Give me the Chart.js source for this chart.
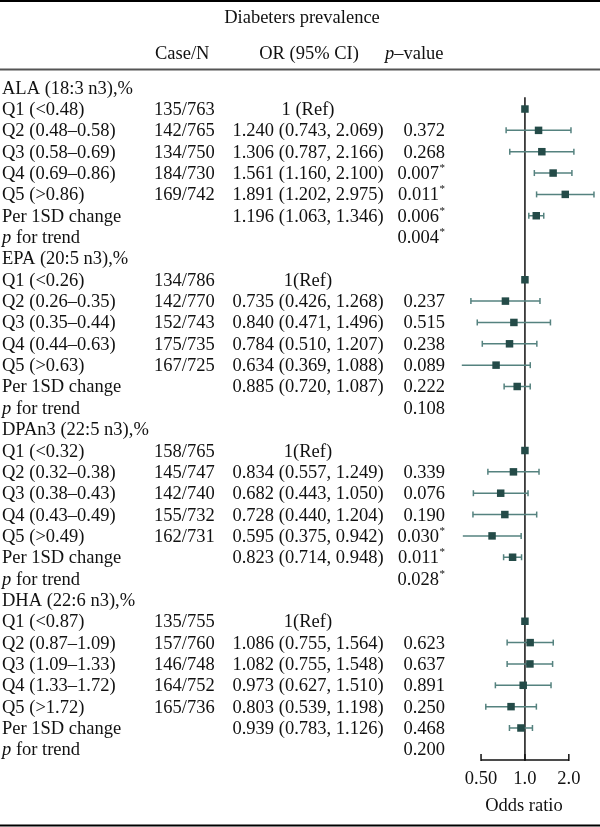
<!doctype html>
<html lang="en">
<head>
<meta charset="utf-8">
<title>Diabeters prevalence</title>
<style>
  * { margin: 0; padding: 0; }
  body { background: #fff; }
  .chartBox { width: 600px; height: 827px; position: relative; }
</style>
</head>
<body>
<div class="chartBox"><canvas id="forestChart"></canvas></div>
<script src="https://cdn.jsdelivr.net/npm/chart.js"></script>
<script>
  // table data, one entry per fatty acid
  const groupNames = ['ALA (18:3 n3),%', 'EPA (20:5 n3),%', 'DPAn3 (22:5 n3),%', 'DHA (22:6 n3),%']
  const quintileLabels = [
    ['Q1 (<0.48)', 'Q2 (0.48–0.58)', 'Q3 (0.58–0.69)', 'Q4 (0.69–0.86)', 'Q5 (>0.86)'],
    ['Q1 (<0.26)', 'Q2 (0.26–0.35)', 'Q3 (0.35–0.44)', 'Q4 (0.44–0.63)', 'Q5 (>0.63)'],
    ['Q1 (<0.32)', 'Q2 (0.32–0.38)', 'Q3 (0.38–0.43)', 'Q4 (0.43–0.49)', 'Q5 (>0.49)'],
    ['Q1 (<0.87)', 'Q2 (0.87–1.09)', 'Q3 (1.09–1.33)', 'Q4 (1.33–1.72)', 'Q5 (>1.72)']
  ]
  const caseN = [
    ['135/763', '142/765', '134/750', '184/730', '169/742'],
    ['134/786', '142/770', '152/743', '175/735', '167/725'],
    ['158/765', '145/747', '142/740', '155/732', '162/731'],
    ['135/755', '157/760', '146/748', '164/752', '165/736']
  ]
  const refLabels = ['1 (Ref)', '1(Ref)', '1(Ref)', '1(Ref)']
  // Q1..Q5, then per 1SD change
  const oddsRatios = [
    [1, 1.240, 1.306, 1.561, 1.891, 1.196],
    [1, 0.735, 0.840, 0.784, 0.634, 0.885],
    [1, 0.834, 0.682, 0.728, 0.595, 0.823],
    [1, 1.086, 1.082, 0.973, 0.803, 0.939]
  ]
  const ciLower = [
    [null, 0.743, 0.787, 1.160, 1.202, 1.063],
    [null, 0.426, 0.471, 0.510, 0.369, 0.720],
    [null, 0.557, 0.443, 0.440, 0.375, 0.714],
    [null, 0.755, 0.755, 0.627, 0.539, 0.783]
  ]
  const ciUpper = [
    [null, 2.069, 2.166, 2.100, 2.975, 1.346],
    [null, 1.268, 1.496, 1.207, 1.088, 1.087],
    [null, 1.249, 1.050, 1.204, 0.942, 0.948],
    [null, 1.564, 1.548, 1.510, 1.198, 1.126]
  ]
  // Q1..Q5, per 1SD change, p for trend (* = significant)
  const pValues = [
    ['', '0.372', '0.268', '0.007*', '0.011*', '0.006*', '0.004*'],
    ['', '0.237', '0.515', '0.238', '0.089', '0.222', '0.108'],
    ['', '0.339', '0.076', '0.190', '0.030*', '0.011*', '0.028*'],
    ['', '0.623', '0.637', '0.891', '0.250', '0.468', '0.200']
  ]
  const xTicks = [0.5, 1, 2]
  const xTickLabels = ['0.50', '1.0', '2.0']

  const rowsPerGroup = 8
  const squareColor = '#244b48'
  const whiskerColor = '#55827f'
  const textColor = '#111'
  const fontFamily = '"Liberation Serif", "DejaVu Serif", serif'
  const fontSize = 18.5

  // build datasets
  const squarePoints = []
  const whiskerSets = []
  oddsRatios.forEach((list, g) => {
    list.forEach((or, k) => {
      const row = g * rowsPerGroup + 1 + k
      squarePoints.push({ x: or, y: row })
      if (ciLower[g][k] !== null) {
        whiskerSets.push({
          type: 'scatter',
          data: [{ x: ciLower[g][k], y: row }, { x: ciUpper[g][k], y: row }],
          showLine: true,
          borderColor: whiskerColor,
          borderWidth: 1.5,
          pointStyle: 'line',
          rotation: 90,
          pointRadius: 3,
          pointBorderColor: whiskerColor,
          pointBorderWidth: 1.5,
          clip: false
        })
      }
    })
  })

  function setFont(ctx, size, italic) {
    ctx.font = (italic ? 'italic ' : '') + size + 'px ' + fontFamily
  }

  function drawItalicStart(ctx, first, rest, x, y) {
    setFont(ctx, fontSize, true)
    ctx.textAlign = 'left'
    ctx.fillText(first, x, y)
    const w = ctx.measureText(first).width
    setFont(ctx, fontSize, false)
    ctx.fillText(rest, x + w, y)
  }

  function drawP(ctx, text, xr, y) {
    if (!text) return
    const star = text.endsWith('*')
    const num = star ? text.slice(0, -1) : text
    ctx.textAlign = 'right'
    if (star) {
      setFont(ctx, 11, false)
      ctx.fillText('*', xr, y - 8)
      xr -= 6
    }
    setFont(ctx, fontSize, false)
    ctx.fillText(num, xr, y)
  }

  const tablePlugin = {
    id: 'forestTable',
    beforeDatasetsDraw(chart) {
      const { ctx, chartArea, scales: { x, y } } = chart
      ctx.save()
      ctx.strokeStyle = '#111'
      ctx.lineWidth = 1.5
      // reference line at OR = 1
      const x1 = x.getPixelForValue(1)
      ctx.beginPath()
      ctx.moveTo(x1, y.getPixelForValue(0.45))
      ctx.lineTo(x1, chartArea.bottom)
      ctx.stroke()
      // axis line + ticks
      ctx.beginPath()
      ctx.moveTo(x.getPixelForValue(xTicks[0]), chartArea.bottom)
      ctx.lineTo(x.getPixelForValue(xTicks[xTicks.length - 1]), chartArea.bottom)
      xTicks.forEach(v => {
        const px = x.getPixelForValue(v)
        ctx.moveTo(px, chartArea.bottom + 1)
        ctx.lineTo(px, chartArea.bottom - 6)
      })
      ctx.stroke()
      ctx.restore()
    },
    afterDraw(chart) {
      const { ctx, width, scales: { x, y } } = chart
      ctx.save()
      ctx.fillStyle = textColor
      ctx.textBaseline = 'alphabetic'

      // rules
      ctx.strokeStyle = '#000'
      ctx.lineWidth = 2
      ctx.beginPath(); ctx.moveTo(0, 1); ctx.lineTo(width, 1); ctx.stroke()
      ctx.strokeStyle = '#555'
      ctx.beginPath(); ctx.moveTo(0, 69.5); ctx.lineTo(width, 69.5); ctx.stroke()
      ctx.strokeStyle = '#000'
      ctx.beginPath(); ctx.moveTo(0, 825.5); ctx.lineTo(width, 825.5); ctx.stroke()

      // headers
      setFont(ctx, fontSize, false)
      ctx.textAlign = 'center'
      ctx.fillText('Diabeters prevalence', 302, 23)
      ctx.textAlign = 'left'
      ctx.fillText('Case/N', 155, 59)
      ctx.textAlign = 'center'
      ctx.fillText('OR (95% CI)', 309, 59)
      drawItalicStart(ctx, 'p', '–value', 385, 59)

      // rows
      groupNames.forEach((name, g) => {
        const base = g * rowsPerGroup
        const yy = r => y.getPixelForValue(base + r) + 6
        setFont(ctx, fontSize, false)
        ctx.textAlign = 'left'
        ctx.fillText(name, 2, yy(0))
        for (let k = 0; k < 5; k++) {
          setFont(ctx, fontSize, false)
          ctx.textAlign = 'left'
          ctx.fillText(quintileLabels[g][k], 2, yy(k + 1))
          ctx.fillText(caseN[g][k], 154, yy(k + 1))
          ctx.textAlign = 'center'
          const orText = k === 0 ? refLabels[g]
            : oddsRatios[g][k].toFixed(3) + ' (' + ciLower[g][k].toFixed(3) + ', ' + ciUpper[g][k].toFixed(3) + ')'
          ctx.fillText(orText, 308, yy(k + 1))
          drawP(ctx, pValues[g][k], 445, yy(k + 1))
        }
        setFont(ctx, fontSize, false)
        ctx.textAlign = 'left'
        ctx.fillText('Per 1SD change', 2, yy(6))
        ctx.textAlign = 'center'
        ctx.fillText(oddsRatios[g][5].toFixed(3) + ' (' + ciLower[g][5].toFixed(3) + ', ' + ciUpper[g][5].toFixed(3) + ')', 308, yy(6))
        drawP(ctx, pValues[g][5], 445, yy(6))
        drawItalicStart(ctx, 'p', ' for trend', 2, yy(7))
        drawP(ctx, pValues[g][6], 445, yy(7))
      })

      // axis title
      setFont(ctx, fontSize, false)
      ctx.textAlign = 'center'
      ctx.fillText('Odds ratio', x.getPixelForValue(1) - 1, 811)
      ctx.restore()
    }
  }

  const ctx = document.getElementById('forestChart')
  const forestChart = new Chart(ctx, {
    type: 'scatter',
    data: {
      datasets: [{
        data: squarePoints,
        pointStyle: 'rect',
        pointRadius: 5.3,
        backgroundColor: squareColor,
        borderColor: squareColor,
        borderWidth: 0,
        clip: false
      }].concat(whiskerSets)
    },
    options: {
      responsive: true,
      maintainAspectRatio: false,
      animation: false,
      events: [],
      layout: { padding: { left: 470, right: 0, top: 77, bottom: 0 } },
      scales: {
        x: {
          type: 'logarithmic',
          min: 0.42,
          max: 3.0,
          grid: { display: false, drawTicks: false },
          border: { display: false },
          afterBuildTicks: s => { s.ticks = xTicks.map(v => ({ value: v })) },
          afterFit: s => { s.height = 67 },
          ticks: {
            autoSkip: false,
            maxRotation: 0,
            padding: 8,
            color: textColor,
            font: { family: fontFamily, size: fontSize },
            callback: (v, i) => xTickLabels[i]
          }
        },
        y: {
          type: 'linear',
          reverse: true,
          min: -0.5,
          max: 31.5,
          display: false
        }
      },
      plugins: {
        legend: { display: false },
        tooltip: { enabled: false }
      }
    },
    plugins: [tablePlugin]
  })
</script>
</body>
</html>
